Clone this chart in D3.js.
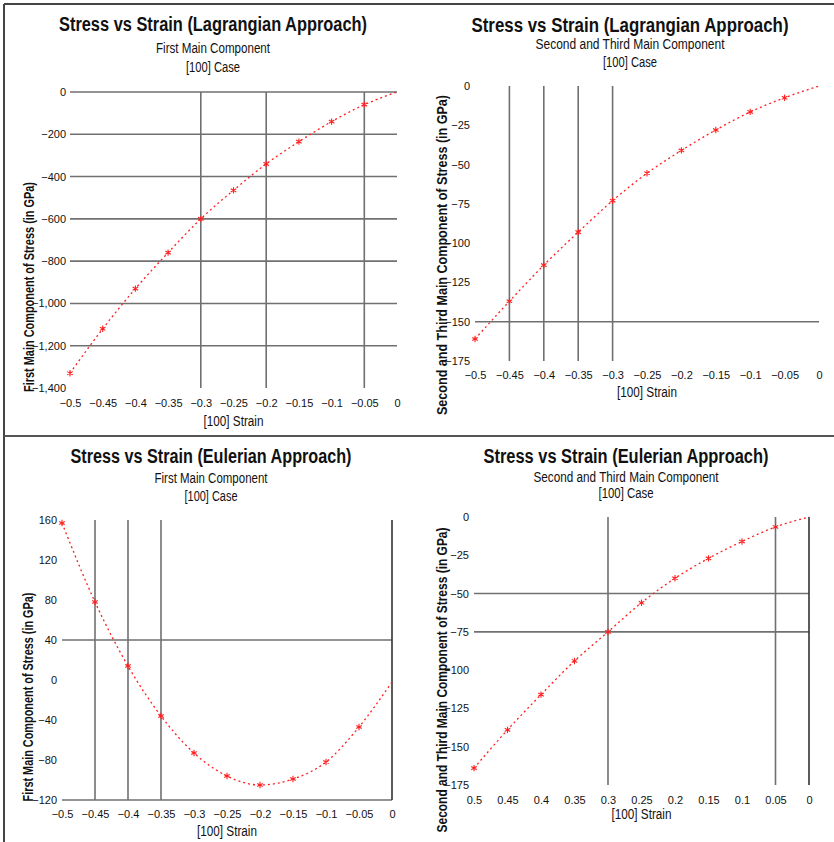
<!DOCTYPE html>
<html>
<head>
<meta charset="utf-8">
<script src="https://cdn.jsdelivr.net/npm/d3@7"></script>
<style>
  body { margin: 0; background: #fff; }
  text { font-family: "Liberation Sans Narrow", "Arial Narrow", "Liberation Sans", Arial, sans-serif; fill: #111; }
</style>
</head>
<body>
<div id="chart"></div>
<script>
const width = 834;
const height = 842;

// strain values (x) shared by all four charts
const strain = [-0.5, -0.45, -0.4, -0.35, -0.3, -0.25, -0.2, -0.15, -0.1, -0.05, 0];

// stress values (GPa)
const lagFirst = [-1330, -1120, -930, -760, -600, -465, -340, -235, -140, -60, 0];
const lagSecond = [-161, -137, -114, -93, -73, -55.5, -41, -28, -16.5, -7.5, 0];
const eulFirst = [157, 78, 14, -36, -73, -96, -105, -99, -82, -47, -2];
const eulSecond = [-164, -139, -116, -94, -75, -56, -40, -27, -16, -6.5, 0];

// tick values
const strainTicks = [-0.5, -0.45, -0.4, -0.35, -0.3, -0.25, -0.2, -0.15, -0.1, -0.05, 0];
const lagFirstTicks = [0, -200, -400, -600, -800, -1000, -1200, -1400];
const lagSecondTicks = [0, -25, -50, -75, -100, -125, -150, -175];
const eulFirstTicks = [160, 120, 80, 40, 0, -40, -80, -120];
const eulSecondTicks = [0, -25, -50, -75, -100, -125, -150, -175];

const svg = d3.select("#chart")
  .append("svg")
  .attr("width", width)
  .attr("height", height);

// frame lines
svg.append("line").attr("x1", 4).attr("x2", width).attr("y1", 4).attr("y2", 4)
  .attr("stroke", "#444").attr("stroke-width", 2);
svg.append("line").attr("x1", 4).attr("x2", 4).attr("y1", 4).attr("y2", height)
  .attr("stroke", "#444").attr("stroke-width", 2);
svg.append("line").attr("x1", 4).attr("x2", width).attr("y1", 436).attr("y2", 436)
  .attr("stroke", "#555").attr("stroke-width", 2);

const panels = [
  {
    title: "Stress vs Strain (Lagrangian Approach)", sub: "First Main Component",
    cx: 213, titleY: [31, 53, 72], titleLen: [308, 114, 54],
    values: lagFirst, yTicks: lagFirstTicks, yFmt: d3.format(","),
    xr: [70, 397], yr: [388, 92], yDomain: [-1400, 0],
    vGrid: [-0.3, -0.2, -0.05], hGrid: [0, -200, -400, -600, -800, -1000, -1200],
    yLabRight: 66, xTickY: 407, xTitleY: 426,
    yTitle: "First Main Component of Stress (in GPa)", yTitleX: 29, yTitleCY: 287, yTitleLen: 210,
    xFmt: d => d === 0 ? "0" : d3.format("")(d)
  },
  {
    title: "Stress vs Strain (Lagrangian Approach)", sub: "Second and Third Main Component",
    cx: 630, titleY: [32, 49, 67], titleLen: [317, 189, 54],
    values: lagSecond, yTicks: lagSecondTicks, yFmt: d3.format(""),
    xr: [475, 819], yr: [361, 86], yDomain: [-175, 0],
    vGrid: [-0.45, -0.4, -0.35, -0.3], hGrid: [-150],
    yLabRight: 470, xTickY: 379, xTitleY: 397,
    yTitle: "Second and Third Main Component of Stress (in GPa)", yTitleX: 442, yTitleCY: 255, yTitleLen: 320,
    xFmt: d => d === 0 ? "0" : d3.format("")(d)
  },
  {
    title: "Stress vs Strain (Eulerian Approach)", sub: "First Main Component",
    cx: 211, titleY: [463, 483, 501], titleLen: [281, 113, 53],
    values: eulFirst, yTicks: eulFirstTicks, yFmt: d3.format(""),
    xr: [62, 392], yr: [800, 520], yDomain: [-120, 160],
    vGrid: [-0.45, -0.4, -0.35, 0], hGrid: [40, -120],
    yLabRight: 57, xTickY: 818, xTitleY: 836,
    yTitle: "First Main Component of Stress (in GPa)", yTitleX: 28, yTitleCY: 697, yTitleLen: 209,
    xFmt: d => d === 0 ? "0" : d3.format("")(d)
  },
  {
    title: "Stress vs Strain (Eulerian Approach)", sub: "Second and Third Main Component",
    cx: 626, titleY: [463, 482, 498], titleLen: [285, 185, 55],
    values: eulSecond, yTicks: eulSecondTicks, yFmt: d3.format(""),
    xr: [474, 809], yr: [785, 517], yDomain: [-175, 0],
    vGrid: [-0.3, -0.05, 0], hGrid: [-50, -75],
    yLabRight: 469, xTickY: 804, xTitleY: 819,
    yTitle: "Second and Third Main Component of Stress (in GPa)", yTitleX: 442, yTitleCY: 680, yTitleLen: 305,
    // the minus signs are not printed on this chart's strain labels
    xFmt: d => d3.format("")(Math.abs(d))
  }
];

panels.forEach(drawPanel);

function drawPanel(p) {
  const g = svg.append("g");

  const xScale = d3.scaleLinear().domain([-0.5, 0]).range(p.xr);
  const yScale = d3.scaleLinear().domain(p.yDomain).range(p.yr);

  // titles
  const heads = [p.title, p.sub, "[100] Case"];
  heads.forEach((t, i) => {
    g.append("text")
      .attr("x", p.cx)
      .attr("y", p.titleY[i])
      .attr("text-anchor", "middle")
      .attr("font-size", i === 0 ? 20 : 14)
      .attr("font-weight", i === 0 ? "bold" : "normal")
      .attr("textLength", p.titleLen[i])
      .attr("lengthAdjust", "spacingAndGlyphs")
      .text(t);
  });

  // grid lines
  g.selectAll(".hgrid")
    .data(p.hGrid)
    .enter()
    .append("line")
    .attr("x1", p.xr[0]).attr("x2", p.xr[1])
    .attr("y1", d => yScale(d)).attr("y2", d => yScale(d))
    .attr("stroke", "#707070").attr("stroke-width", 1.6);

  g.selectAll(".vgrid")
    .data(p.vGrid)
    .enter()
    .append("line")
    .attr("x1", d => xScale(d)).attr("x2", d => xScale(d))
    .attr("y1", p.yr[0]).attr("y2", p.yr[1])
    .attr("stroke", d => d === 0 ? "#333" : "#707070")
    .attr("stroke-width", 1.6);

  // axes (labels only)
  const xAxis = d3.axisBottom(xScale)
    .tickValues(strainTicks)
    .tickSize(0)
    .tickFormat(p.xFmt);
  const xg = g.append("g")
    .attr("transform", `translate(0, ${p.xTickY})`)
    .call(xAxis);
  xg.select(".domain").remove();
  xg.selectAll("text")
    .attr("y", 0).attr("dy", null)
    .attr("font-size", 11)
    .attr("font-family", null)
    .attr("fill", "#111");

  const yAxis = d3.axisLeft(yScale)
    .tickValues(p.yTicks)
    .tickSize(0)
    .tickPadding(0)
    .tickFormat(p.yFmt);
  const yg = g.append("g")
    .attr("transform", `translate(${p.yLabRight}, 0)`)
    .call(yAxis);
  yg.select(".domain").remove();
  yg.selectAll("text")
    .attr("font-size", 11)
    .attr("font-family", null)
    .attr("fill", "#111");

  // axis titles
  g.append("text")
    .attr("x", (p.xr[0] + p.xr[1]) / 2)
    .attr("y", p.xTitleY)
    .attr("text-anchor", "middle")
    .attr("font-size", 14)
    .attr("textLength", 60)
    .attr("lengthAdjust", "spacingAndGlyphs")
    .text("[100] Strain");

  g.append("text")
    .attr("transform", `translate(${p.yTitleX}, ${p.yTitleCY}) rotate(-90)`)
    .attr("text-anchor", "middle")
    .attr("dy", "0.35em")
    .attr("font-size", 14)
    .attr("font-weight", "bold")
    .attr("textLength", p.yTitleLen)
    .attr("lengthAdjust", "spacingAndGlyphs")
    .text(p.yTitle);

  // data
  const pts = strain.map((s, i) => ({ x: s, y: p.values[i] }));

  const line = d3.line()
    .x(d => xScale(d.x))
    .y(d => yScale(d.y))
    .curve(d3.curveMonotoneX);

  g.append("path")
    .datum(pts)
    .attr("d", line)
    .attr("fill", "none")
    .attr("stroke", "#ff2020")
    .attr("stroke-width", 1.3)
    .attr("stroke-dasharray", "2,3");

  g.selectAll(".pt")
    .data(pts.slice(0, -1))
    .enter()
    .append("path")
    .attr("d", d3.symbol().type(d3.symbolAsterisk).size(28))
    .attr("transform", d => `translate(${xScale(d.x)}, ${yScale(d.y)})`)
    .attr("fill", "none")
    .attr("stroke", "#ff2020")
    .attr("stroke-width", 1.1);
}
</script>
</body>
</html>
